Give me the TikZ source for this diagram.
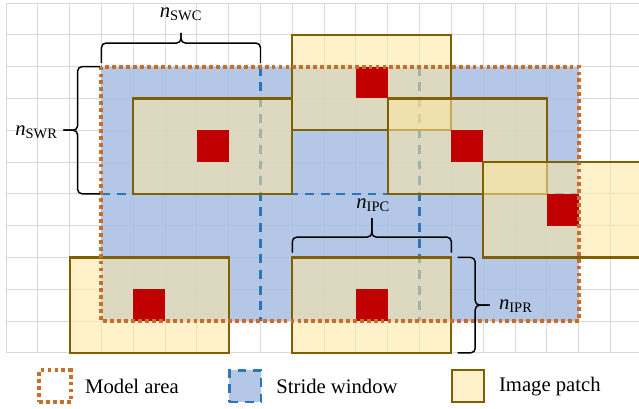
\documentclass[tikz,border=0pt]{standalone}
\usepackage{fontspec}
\setmainfont{Liberation Serif}
\usetikzlibrary{positioning}
\definecolor{gridgray}{RGB}{217,217,217}
\definecolor{areablue}{RGB}{167,189,227}
\definecolor{strideblue}{RGB}{46,117,182}
\definecolor{modelorange}{RGB}{200,110,45}
\definecolor{patchyellow}{RGB}{255,232,160}
\definecolor{patchedge}{RGB}{127,96,0}
\definecolor{centrered}{RGB}{192,0,0}
\begin{document}
\begin{tikzpicture}[x=1cm,y=-1cm,
  every node/.style={font=\fontsize{18.5}{22}\selectfont,inner sep=0pt,outer sep=0pt},
  gridline/.style={draw=gridgray,line width=0.8pt},
  areafill/.style={fill=areablue,fill opacity=0.85},
  strideline/.style={draw=strideblue,line width=2.2pt,dash pattern=on 8pt off 6pt},
  modelline/.style={draw=modelorange,line width=3.6pt,dash pattern=on 3.4pt off 2.8pt},
  patch/.style={fill=patchyellow,fill opacity=0.55,draw=patchedge,line width=2pt,minimum width=5cm,minimum height=3cm},
  centre/.style={fill=centrered,minimum size=1cm},
  brc/.style={line width=1.3pt,rounded corners=4pt},
  key/.style={minimum width=1cm,minimum height=1cm}]
\clip (-0.19,-0.094) rectangle (19.9,12.74);
% grid and stride windows
\draw[gridline] (0,0) grid (19.9,11);
\fill[areafill] (3,2) rectangle (18,10);
\draw[strideline] (8,2) -- (8,10);
\draw[strideline] (13,2) -- (13,10);
\draw[strideline] (3,6) -- (18,6);
% image patches with centre pixels
\foreach \c/\r [count=\i] in {6.5/4.5,11.5/2.5,14.5/4.5,17.5/6.5,4.5/9.5,11.5/9.5}
  \node[patch] (patch\i) at (\c,\r) {};
\foreach \i in {1,...,6}
  \node[centre] (centre\i) at (patch\i.center) {};
\draw[modelline] (3,2) rectangle (18,10);
% braces
\node[anchor=base] (nswc) at (5.5,0.47) {\textit{n}\textsubscript{SWC}};
\draw[brc] (3,1.89) |- (5.5,1.26) -- (5.5,0.94);
\draw[brc] (8,1.89) |- (5.5,1.26) -- (5.5,0.94);
\node[anchor=base east] (nswr) at (1.62,4.18) {\textit{n}\textsubscript{SWR}};
\draw[brc] (2.96,2) -| (2.25,4) -- (1.8,4);
\draw[brc] (2.96,6) -| (2.25,4) -- (1.8,4);
\node[anchor=base] (nipc) at (11.54,6.45) {\textit{n}\textsubscript{IPC}};
\draw[brc] (9,7.85) |- (11.5,7.36) -- (11.5,6.76);
\draw[brc] (14,7.85) |- (11.5,7.36) -- (11.5,6.76);
\node[anchor=base west] (nipr) at (15.5,9.65) {\textit{n}\textsubscript{IPR}};
\draw[brc] (14.2,8) -| (14.75,9.5) -- (15.2,9.5);
\draw[brc] (14.2,11) -| (14.75,9.5) -- (15.2,9.5);
% legend
\node[key,modelline] (keymodel) at (1.54,12.05) {};
\node[right=0.45cm of keymodel] (txtmodel) {Model area};
\node[key,areafill,strideline] (keystride) at (7.52,12.05) {};
\node[right=0.48cm of keystride] (txtstride) {Stride window};
\node[patch,key] (keypatch) at (14.52,12.05) {};
\node[right=0.48cm of keypatch] (txtpatch) {Image patch};
\end{tikzpicture}
\end{document}
